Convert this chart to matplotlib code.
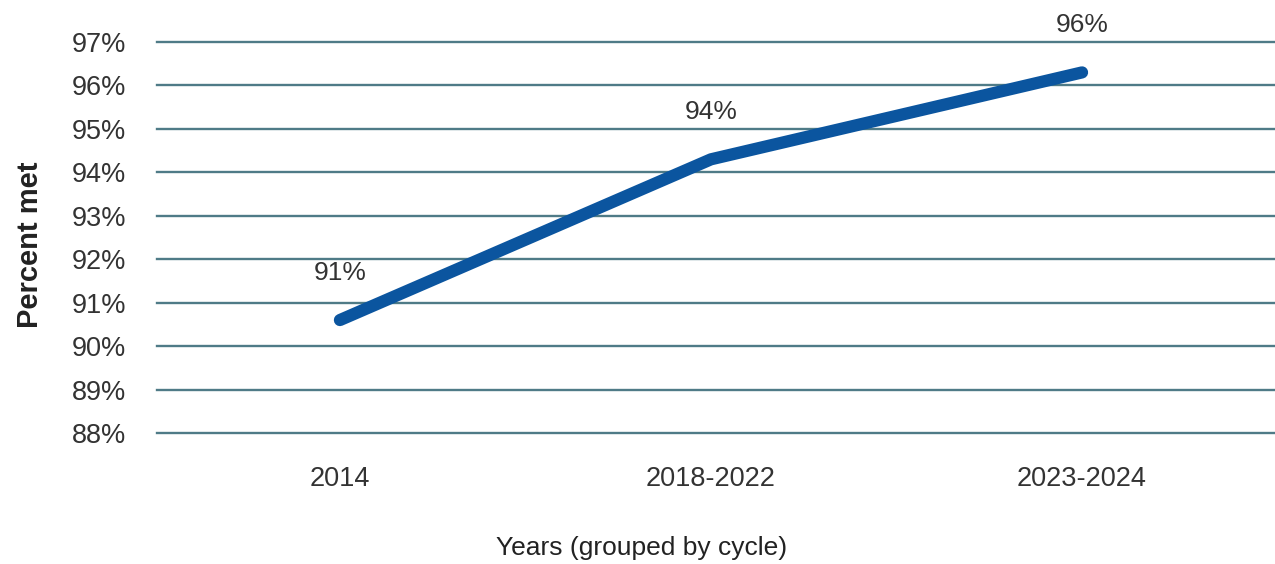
import numpy as np
import matplotlib.pyplot as plt

plt.rcParams['font.family'] = ['Liberation Sans', 'DejaVu Sans']

# Datos
cycles = ["2014", "2018-2022", "2023-2024"]
percent_met = [90.6, 94.3, 96.3]
y_ticks = [88, 89, 90, 91, 92, 93, 94, 95, 96, 97]

LINE_COLOR = "#0b559f"
GRID_COLOR = "#4f7b87"
TEXT_COLOR = "#333333"


def main():
    fig = plt.figure(figsize=(12.75, 5.64), dpi=100)
    ax = fig.add_axes([157 / 1275, 1 - 433 / 564, 1 - 157 / 1275, (433 - 42) / 564])

    x = np.arange(len(cycles))

    # Cuadrícula horizontal
    for t in y_ticks:
        ax.axhline(t, color=GRID_COLOR, linewidth=1.7, zorder=1, clip_on=False)

    ax.plot(x, percent_met, color=LINE_COLOR, linewidth=8.8,
            solid_capstyle="round", solid_joinstyle="round", zorder=3)

    # Etiquetas de valor sobre cada punto
    for xi, v in zip(x, percent_met):
        ax.annotate(f"{v:.0f}%", (xi, v), xytext=(0, 34), textcoords="offset points",
                    ha="center", va="center", fontsize=19, color=TEXT_COLOR,
                    annotation_clip=False)

    ax.set_xlim(-0.493, 2.52)
    ax.set_ylim(88, 97)
    ax.set_xticks(x)
    ax.set_xticklabels(cycles)
    ax.set_yticks(y_ticks)
    ax.set_yticklabels([f"{t}%" for t in y_ticks])
    ax.tick_params(axis="both", length=0, labelsize=19.5, colors=TEXT_COLOR)
    ax.tick_params(axis="y", pad=22)
    ax.tick_params(axis="x", pad=24)

    for s in ax.spines.values():
        s.set_visible(False)

    fig.text(30 / 1275, 1 - 245 / 564, "Percent met", rotation=90, ha="center", va="center",
             fontsize=21, fontweight="bold", color="#222222")
    fig.text(642 / 1275, 1 - 548 / 564, "Years (grouped by cycle)", ha="center", va="center",
             fontsize=19, color="#222222")

    fig.savefig("out.png", dpi=100, facecolor="white")


if __name__ == '__main__':
    main()
